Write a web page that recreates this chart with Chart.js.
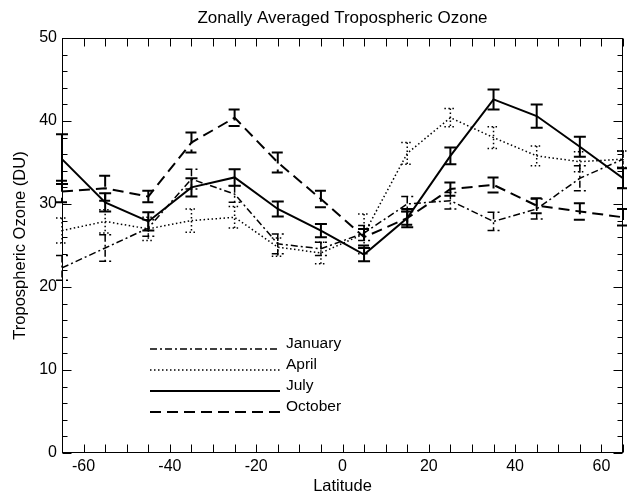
<!DOCTYPE html>
<html><head><meta charset="utf-8">
<script src="https://cdn.jsdelivr.net/npm/chart.js@4.4.0/dist/chart.umd.min.js"></script>
<style>html,body{margin:0;padding:0;background:#fff;}#wrap{width:627px;height:494px;position:relative;}</style>
</head><body><div id="wrap"><canvas id="c" width="627" height="494"></canvas></div>
<script>
const latitudes = [-65, -55, -45, -35, -25, -15, -5, 5, 15, 25, 35, 45, 55, 65];
const january    = [22.3, 24.7, 27.1, 33.0, 31.2, 25.2, 24.6, 26.5, 30.0, 30.4, 27.9, 29.4, 33.1, 35.4];
const januaryErr = [1.5, 1.6, 1.0, 1.2, 1.0, 1.2, 0.8, 0.9, 0.9, 1.0, 1.1, 1.2, 1.5, 1.0];
const april      = [26.8, 27.9, 27.0, 28.0, 28.4, 24.8, 24.1, 26.4, 36.1, 40.4, 38.0, 35.8, 35.1, 35.4];
const aprilErr   = [1.5, 1.4, 1.4, 1.4, 1.3, 1.1, 1.3, 2.4, 1.3, 1.1, 1.3, 1.2, 1.2, 1.0];
const july       = [35.4, 30.2, 27.9, 32.0, 33.2, 29.4, 26.8, 23.9, 28.3, 35.8, 42.6, 40.6, 36.9, 33.1];
const julyErr    = [3.0, 1.1, 1.1, 1.1, 1.0, 0.9, 0.8, 0.8, 1.1, 1.0, 1.2, 1.4, 1.2, 1.2];
const october    = [31.5, 31.9, 30.9, 37.4, 40.4, 35.0, 30.6, 26.0, 28.3, 31.8, 32.3, 29.8, 29.1, 28.4];
const octoberErr = [1.3, 1.5, 0.7, 1.2, 1.0, 1.2, 1.0, 1.0, 0.8, 0.8, 0.9, 0.9, 1.0, 1.0];
const seriesNames = ['January', 'April', 'July', 'October'];
const xTickLabels = [-60, -40, -20, 0, 20, 40, 60];
const yTickLabels = [0, 10, 20, 30, 40, 50];
const chartTitle = 'Zonally Averaged Tropospheric Ozone';

const FONT = '"Liberation Sans", Arial, Helvetica, sans-serif';
const INK = '#000';
const styles = [
  {dash: [7, 3, 2, 3], width: 1.5},
  {dash: [1.5, 2.5], width: 1.5},
  {dash: [], width: 2},
  {dash: [11, 6], width: 2}
];
const values = [january, april, july, october];
const errors = [januaryErr, aprilErr, julyErr, octoberErr];

const datasets = seriesNames.map((name, k) => ({
  label: name,
  data: latitudes.map((x, i) => ({x: x, y: values[k][i]})),
  err: errors[k],
  borderColor: INK,
  borderWidth: styles[k].width,
  borderDash: styles[k].dash,
  pointRadius: 0,
  tension: 0,
  fill: false
}));

const decor = {
  id: 'decor',
  afterDatasetsDraw(chart) {
    const ctx = chart.ctx;
    const xs = chart.scales.x, ys = chart.scales.y;
    chart.data.datasets.forEach((ds, k) => {
      ctx.save();
      ctx.strokeStyle = ds.borderColor;
      ctx.lineWidth = ds.borderWidth;
      ctx.setLineDash(ds.borderDash);
      ds.data.forEach((p, i) => {
        const e = ds.err[i];
        const px = xs.getPixelForValue(p.x);
        const t = ys.getPixelForValue(p.y + e);
        const b = ys.getPixelForValue(p.y - e);
        ctx.beginPath();
        ctx.moveTo(px, t); ctx.lineTo(px, b);
        ctx.moveTo(px - 6, t); ctx.lineTo(px + 6, t);
        ctx.moveTo(px - 6, b); ctx.lineTo(px + 6, b);
        ctx.stroke();
      });
      ctx.restore();
    });
  },
  afterDraw(chart) {
    const ctx = chart.ctx;
    const a = chart.chartArea;
    const xs = chart.scales.x, ys = chart.scales.y;
    ctx.save();
    ctx.strokeStyle = INK;
    ctx.lineWidth = 1;
    ctx.setLineDash([]);
    const L = Math.round(a.left) + 0.5, R = Math.round(a.right) - 0.5;
    const T = Math.round(a.top) + 0.5, B = Math.round(a.bottom) - 0.5;
    ctx.strokeRect(L, T, R - L, B - T);
    ctx.beginPath();
    xs.ticks.forEach(tk => {
      const px = Math.round(xs.getPixelForValue(tk.value)) + 0.5;
      ctx.moveTo(px, B); ctx.lineTo(px, B - 8);
      ctx.moveTo(px, T); ctx.lineTo(px, T + 8);
    });
    ys.ticks.forEach(tk => {
      const py = Math.round(ys.getPixelForValue(tk.value)) + 0.5;
      const len = (tk.value % 10 === 0) ? 9 : 5;
      ctx.moveTo(L, py); ctx.lineTo(L + len, py);
      ctx.moveTo(R, py); ctx.lineTo(R - len, py);
    });
    ctx.stroke();
    // title
    ctx.fillStyle = INK;
    ctx.font = '17px ' + FONT;
    ctx.textAlign = 'center';
    ctx.textBaseline = 'middle';
    ctx.fillText(chartTitle, (a.left + a.right) / 2, 18);
    // legend
    ctx.font = '15.5px ' + FONT;
    ctx.textAlign = 'left';
    chart.data.datasets.forEach((ds, k) => {
      const ty = 344 + k * 21;
      const ly = ty + 5;
      ctx.save();
      ctx.strokeStyle = ds.borderColor;
      ctx.lineWidth = ds.borderWidth;
      ctx.setLineDash(ds.borderDash);
      ctx.beginPath();
      ctx.moveTo(150, ly); ctx.lineTo(280, ly);
      ctx.stroke();
      ctx.restore();
      ctx.fillText(ds.label, 286, ty);
    });
    ctx.restore();
  }
};

new Chart(document.getElementById('c'), {
  type: 'line',
  data: {datasets: datasets},
  options: {
    responsive: false,
    devicePixelRatio: 1,
    animation: false,
    layout: {padding: {top: 38, right: 0, bottom: 0, left: 0}},
    plugins: {legend: {display: false}, title: {display: false}, tooltip: {enabled: false}},
    scales: {
      x: {
        type: 'linear', min: -65, max: 65, position: 'bottom',
        grid: {display: false, drawTicks: false},
        border: {display: false},
        ticks: {
          stepSize: 5, autoSkip: false, maxRotation: 0, padding: 4, color: INK,
          font: {size: 16, family: FONT},
          callback: v => xTickLabels.includes(v) ? String(v) : ''
        },
        title: {display: true, text: 'Latitude', color: INK, font: {size: 16.5, family: FONT, lineHeight: 0.9}, padding: {top: 0, bottom: 0}},
        afterFit: s => { s.height = 41; }
      },
      y: {
        type: 'linear', min: 0, max: 50,
        grid: {display: false, drawTicks: false},
        border: {display: false},
        ticks: {
          stepSize: 2, autoSkip: false, padding: 5, color: INK,
          font: {size: 16, family: FONT},
          callback: v => yTickLabels.includes(v) ? String(v) : ''
        },
        title: {display: true, text: 'Tropospheric Ozone (DU)', color: INK, font: {size: 16.5, family: FONT}, padding: {top: 11, bottom: 0}},
        afterFit: s => { s.width = 62; }
      }
    }
  },
  plugins: [decor]
});
</script></body></html>
